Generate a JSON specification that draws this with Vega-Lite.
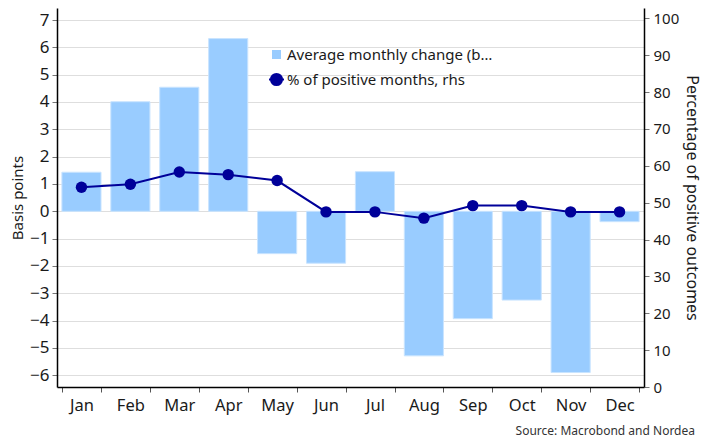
{
  "$schema": "https://vega.github.io/schema/vega-lite/v6.json",
  "width": 587,
  "height": 379,
  "autosize": {"type": "none"},
  "padding": {"left": 57, "top": 8, "right": 66, "bottom": 61},
  "background": "white",
  "config": {
    "font": "Noto Sans",
    "view": {"stroke": null},
    "axis": {"labelColor": "#1a1a1a", "titleColor": "#1a1a1a", "titleFontWeight": "normal"},
    "legend": {
      "title": null,
      "orient": "none",
      "legendX": 212,
      "legendY": 39,
      "labelFontSize": 15,
      "labelColor": "#1a1a1a",
      "labelLimit": 400,
      "labelOffset": 3,
      "rowPadding": 6,
      "symbolSize": 225
    }
  },
  "title": {
    "text": "Source: Macrobond and Nordea",
    "orient": "bottom",
    "anchor": "end",
    "frame": "group",
    "fontSize": 12,
    "fontWeight": "normal",
    "color": "#333333",
    "offset": 12,
    "dx": 51
  },
  "data": {
    "values": [
      {"month": "Jan", "change": 1.43, "pct": 54.2},
      {"month": "Feb", "change": 4.01, "pct": 55.0},
      {"month": "Mar", "change": 4.54, "pct": 58.3},
      {"month": "Apr", "change": 6.32, "pct": 57.6},
      {"month": "May", "change": -1.55, "pct": 56.0},
      {"month": "Jun", "change": -1.9, "pct": 47.5},
      {"month": "Jul", "change": 1.45, "pct": 47.5},
      {"month": "Aug", "change": -5.29, "pct": 45.8},
      {"month": "Sep", "change": -3.93, "pct": 49.2},
      {"month": "Oct", "change": -3.25, "pct": 49.2},
      {"month": "Nov", "change": -5.9, "pct": 47.5},
      {"month": "Dec", "change": -0.38, "pct": 47.5}
    ]
  },
  "encoding": {
    "x": {
      "field": "month",
      "type": "nominal",
      "sort": null,
      "scale": {"paddingInner": 0.2, "paddingOuter": 0.1},
      "axis": {
        "title": null,
        "labelAngle": 0,
        "labelFontSize": 16.5,
        "labelPadding": 5,
        "tickBand": "extent",
        "tickSize": 5,
        "tickColor": "#555555",
        "domainColor": "#000000",
        "domainWidth": 1.5
      }
    }
  },
  "layer": [
    {
      "mark": {"type": "bar", "stroke": "#c9e4ff", "strokeWidth": 1},
      "encoding": {
        "y": {
          "field": "change",
          "type": "quantitative",
          "scale": {"domain": [-6.43, 7.44], "nice": false, "zero": false},
          "axis": {
            "title": "Basis points",
            "titleFontSize": 15,
            "titlePadding": 4,
            "values": [-6, -5, -4, -3, -2, -1, 0, 1, 2, 3, 4, 5, 6, 7],
            "labelFontSize": 17,
            "labelPadding": 3,
            "tickSize": 5,
            "tickColor": "#777777",
            "domainColor": "#000000",
            "domainWidth": 1.5,
            "grid": true,
            "gridColor": "#dedede",
            "gridWidth": 1.2
          }
        },
        "color": {
          "datum": "Average monthly change (b…",
          "type": "nominal",
          "scale": {
            "domain": ["Average monthly change (b…", "% of positive months, rhs"],
            "range": ["#99ccff", "#000099"]
          },
          "legend": {
            "encode": {
              "symbols": {
                "update": {
                  "shape": {"signal": "datum.value === '% of positive months, rhs' ? 'M-1,0H1M0.74,0A0.74,0.74,0,1,1,-0.74,0A0.74,0.74,0,1,1,0.74,0Z' : 'square'"},
                  "size": {"signal": "datum.value === '% of positive months, rhs' ? 225 : 81"},
                  "fill": {"signal": "datum.value === '% of positive months, rhs' ? '#000099' : '#99ccff'"},
                  "stroke": {"signal": "datum.value === '% of positive months, rhs' ? '#000099' : '#99ccff'"},
                  "strokeWidth": {"signal": "datum.value === '% of positive months, rhs' ? 2 : 0"},
                  "opacity": {"value": 1},
                  "fillOpacity": {"value": 1}
                }
              }
            }
          }
        }
      }
    },
    {
      "mark": {"type": "line", "strokeWidth": 2, "point": {"filled": true, "size": 130, "opacity": 1}},
      "encoding": {
        "y": {
          "field": "pct",
          "type": "quantitative",
          "scale": {"domain": [0, 102.8], "nice": false},
          "axis": {
            "orient": "right",
            "title": "Percentage of positive outcomes",
            "titleAngle": 90,
            "titleFontSize": 16,
            "titlePadding": 5,
            "values": [0, 10, 20, 30, 40, 50, 60, 70, 80, 90, 100],
            "labelFontSize": 15,
            "labelPadding": 4,
            "tickSize": 5,
            "tickColor": "#777777",
            "domainColor": "#000000",
            "domainWidth": 1.5,
            "grid": false
          }
        },
        "color": {
          "datum": "% of positive months, rhs",
          "type": "nominal",
          "legend": {
            "encode": {
              "symbols": {
                "update": {
                  "shape": {"signal": "datum.value === '% of positive months, rhs' ? 'M-1,0H1M0.74,0A0.74,0.74,0,1,1,-0.74,0A0.74,0.74,0,1,1,0.74,0Z' : 'square'"},
                  "size": {"signal": "datum.value === '% of positive months, rhs' ? 225 : 81"},
                  "fill": {"signal": "datum.value === '% of positive months, rhs' ? '#000099' : '#99ccff'"},
                  "stroke": {"signal": "datum.value === '% of positive months, rhs' ? '#000099' : '#99ccff'"},
                  "strokeWidth": {"signal": "datum.value === '% of positive months, rhs' ? 2 : 0"},
                  "opacity": {"value": 1},
                  "fillOpacity": {"value": 1}
                }
              }
            }
          }
        }
      }
    }
  ],
  "resolve": {"scale": {"y": "independent"}}
}
